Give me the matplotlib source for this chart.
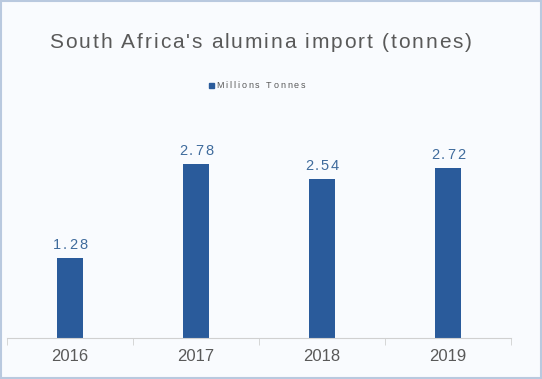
import matplotlib.pyplot as plt
from matplotlib.patches import Rectangle

years = ['2016', '2017', '2018', '2019']
values = [1.28, 2.78, 2.54, 2.72]
series_name = 'Millions Tonnes'
title = "South Africa's alumina import (tonnes)"

bar_color = '#2a5b9b'
text_gray = '#595959'

plt.rcParams['font.family'] = ['Liberation Sans', 'DejaVu Sans']

W, H = 542, 379
fig = plt.figure(figsize=(W / 100, H / 100), dpi=100, facecolor='#f9fbfe')
renderer = fig.canvas.get_renderer()


def spaced_text(xc, yc, s, spacing, ha='center', **kw):
    # draw text letter by letter (pixel coords) to mimic the wide tracking
    sp = fig.text(0, 0, 'a a', **kw)
    a2 = fig.text(0, 0, 'aa', **kw)
    space_w = sp.get_window_extent(renderer).width - a2.get_window_extent(renderer).width
    sp.remove()
    a2.remove()
    widths = []
    for ch in s:
        if ch == ' ':
            widths.append(space_w)
            continue
        t = fig.text(0, 0, ch, **kw)
        widths.append(t.get_window_extent(renderer).width)
        t.remove()
    total = sum(widths) + spacing * (len(s) - 1)
    x0 = xc - total / 2 if ha == 'center' else xc
    for ch, w in zip(s, widths):
        if ch != ' ':
            fig.text(x0 / W, 1 - yc / H, ch, ha='left', va='center', **kw)
        x0 += w + spacing


# light border around the figure
fig.add_artist(Rectangle((0.002, 0.003), 0.996, 0.994, transform=fig.transFigure,
                         fill=False, edgecolor='#b9c9df', linewidth=1.5))

ax = fig.add_axes([7 / W, (H - 338) / H, 504 / W, 238 / H])
ax.set_facecolor('none')

x = range(len(years))
bars = ax.bar(x, values, width=0.2, color=bar_color, label=series_name)
ax.set_xlim(-0.5, 3.5)
ax.set_ylim(0, 238 / 62.6)

for s in ['top', 'right', 'left']:
    ax.spines[s].set_visible(False)
ax.spines['bottom'].set_color('#d0d0d0')
ax.set_yticks([])
ax.set_xticks([-0.5, 0.5, 1.5, 2.5, 3.5], minor=True)
ax.set_xticks(list(x))
ax.set_xticklabels(years, fontsize=12, color=text_gray)
ax.tick_params(axis='x', which='major', length=0, pad=8)
ax.tick_params(axis='x', which='minor', length=5, color='#d0d0d0')

# data labels with tracking
for b, v in zip(bars, values):
    px, py = ax.transData.transform((b.get_x() + b.get_width() / 2, v))
    spaced_text(px, H - py - 13, f'{v:.2f}', 2.0, fontsize=10.5, color='#3f6b9c')

spaced_text(260.5, 42, title, 1.85, fontsize=15, color=text_gray)

# legend: small square marker plus tracked label
fig.add_artist(Rectangle((208.5 / W, 1 - 87.5 / H), 5 / W, 5 / H,
                         transform=fig.transFigure, color=bar_color))
spaced_text(216, 85.5, series_name, 1.9, ha='left', fontsize=6.5, color=text_gray)

fig.savefig('out.png', dpi=100, facecolor=fig.get_facecolor())
